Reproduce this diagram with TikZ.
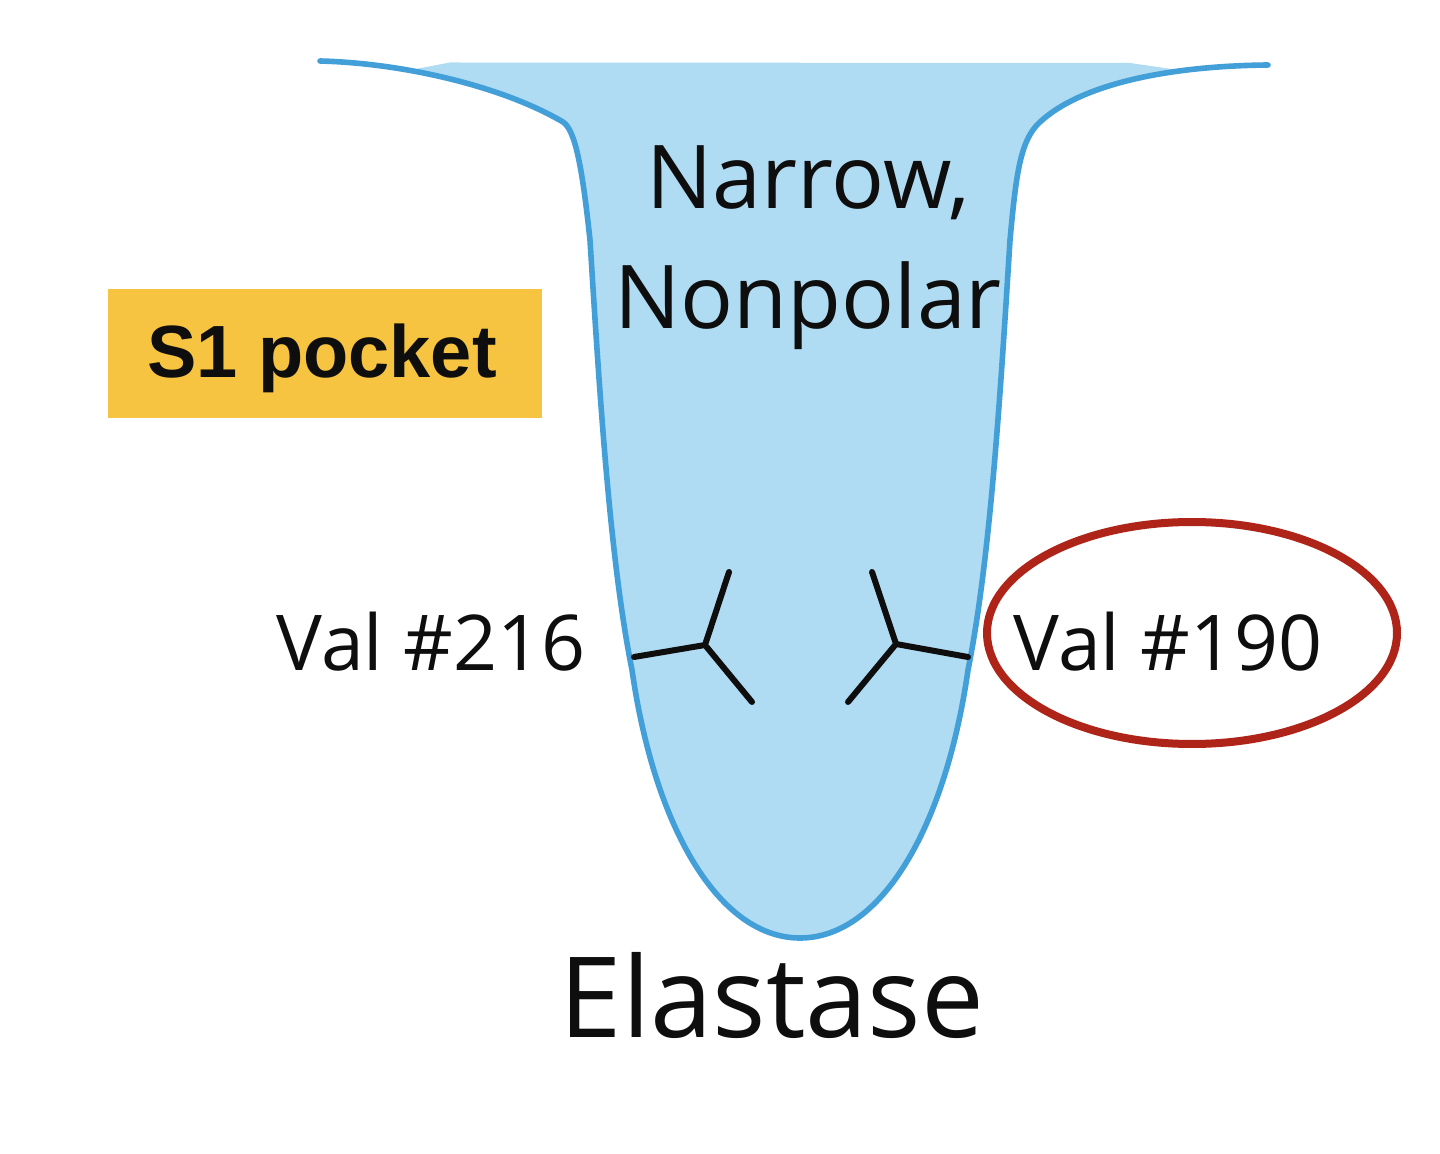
\documentclass[tikz,border=0pt]{standalone}
\usepackage{fontspec}
\usetikzlibrary{shapes.geometric}
\setmainfont{Open Sans}
\newfontfamily\boldf{Liberation Sans}[Scale=1]
\definecolor{pocketfill}{HTML}{B0DCF3}
\definecolor{pocketline}{HTML}{439FD8}
\definecolor{tagfill}{HTML}{F6C440}
\definecolor{ringred}{HTML}{AE2418}
\definecolor{inkc}{HTML}{0E0E0E}
\tikzset{
  px/.style={x=0.5pt,y=-0.5pt},
  wall/.style={draw=pocketline,line width=2.8pt,line cap=round},
  chain/.style={draw=inkc,line width=3pt,line cap=round,line join=round},
  lab/.style={inner sep=0pt,text=inkc,align=center},
}
\begin{document}
\begin{tikzpicture}[px]
\useasboundingbox[fill=white] (0,0) rectangle (1440,1154);
\def\wallpath{(320,61) .. controls (400,63) and (500,85) .. (563,122)
  .. controls (575,130) and (582,165) .. (590,240)
  .. controls (600,400) and (610,560) .. (632,670)
  .. controls (655,830) and (720,938) .. (800,938)
  .. controls (880,938) and (945,830) .. (968,670)
  .. controls (990,560) and (1000,400) .. (1010,240)
  .. controls (1016,175) and (1020,140) .. (1040,122)
  .. controls (1080,85) and (1165,66) .. (1268,65)}
\begin{scope}
\clip (400,72) -- (450,62.5) -- (1130,63) -- (1185,71) -- (1185,1154) -- (400,1154) -- cycle;
\fill[pocketfill] \wallpath -- (1268,50) -- (320,50) -- cycle;
\end{scope}
\draw[wall] \wallpath;
\coordinate (la) at (634,657);
\coordinate (lh) at (705,645);
\coordinate (lt) at (729,572);
\coordinate (lb) at (752,702);
\coordinate (ra) at (968,657);
\coordinate (rh) at (896,644);
\coordinate (rt) at (872,572);
\coordinate (rb) at (848,702);
\draw[chain] (la) -- (lh) -- (lt) (lh) -- (lb);
\draw[chain] (ra) -- (rh) -- (rt) (rh) -- (rb);
\node[draw=ringred,line width=4pt,ellipse,minimum width=205pt,minimum height=111pt,inner sep=0pt] (ring) at (1192,633) {};
\node[fill=tagfill,minimum width=217pt,minimum height=64.5pt,inner sep=0pt] (tag) at (325,354) {};
\node[lab,font=\boldf\fontsize{37}{40}\selectfont\bfseries] (tagtext) at (322,358) {S1 pocket};
\node[lab,font=\fontsize{44}{60}\selectfont] (t1) at (808,248) {Narrow,\\Nonpolar};
\node[lab,font=\fontsize{38.5}{44}\selectfont] (v1) at (431,642) {Val \#216};
\node[lab,font=\fontsize{38.5}{44}\selectfont] (v2) at (1168,642) {Val \#190};
\node[lab,font=\fontsize{56}{66}\selectfont] (el) at (772,995) {Elastase};
\end{tikzpicture}
\end{document}
